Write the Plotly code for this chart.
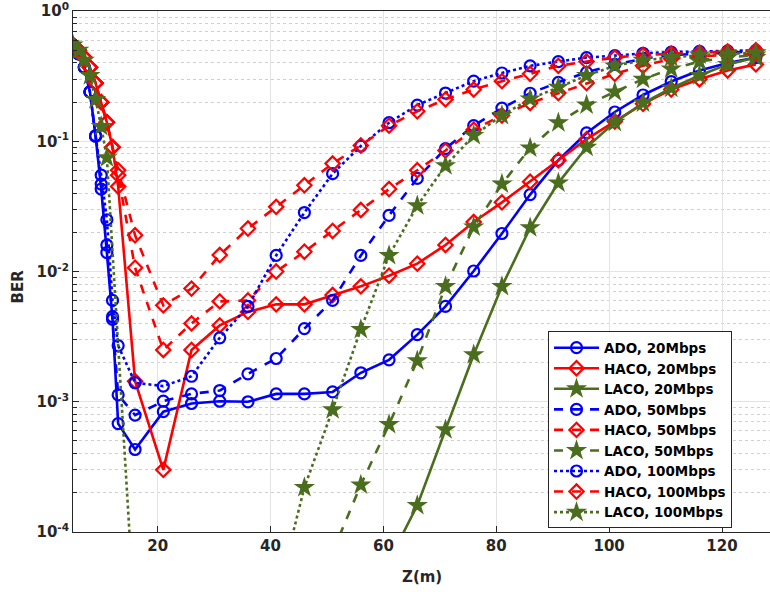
import plotly.graph_objects as go

# ---------------- data ----------------
z_early = [5, 6, 7, 8, 9, 10, 11, 12, 13]
z_rest = [16, 21, 26, 31, 36, 41, 46, 51, 56, 61, 66, 71, 76, 81, 86, 91, 96,
          101, 106, 111, 116, 121, 126]
z = z_early + z_rest

ado_20 = [0.55, 0.47, 0.37, 0.24, 0.11, 0.043, 0.014, 4.3e-3, 6.8e-4,
          4.3e-4, 8.4e-4, 9.7e-4, 1.01e-3, 1.0e-3, 1.15e-3, 1.15e-3, 1.19e-3,
          1.67e-3, 2.1e-3, 3.28e-3, 5.4e-3, 1.01e-2, 1.96e-2, 3.9e-2, 0.0716,
          0.116, 0.168, 0.227, 0.288, 0.35, 0.40, 0.44]
haco_20 = [0.55, 0.50, 0.44, 0.37, 0.28, 0.20, 0.14, 0.09, 0.045,
           1.44e-3, 3.0e-4, 2.5e-3, 3.86e-3, 4.9e-3, 5.6e-3, 5.6e-3, 6.6e-3,
           7.7e-3, 9.3e-3, 1.15e-2, 1.6e-2, 2.4e-2, 3.4e-2, 4.9e-2, 0.0716,
           0.104, 0.142, 0.194, 0.25, 0.30, 0.35, 0.39]
laco_20 = [None] * 9 + [None] * 9 + [
    6e-5, 1.6e-4, 6.1e-4, 2.3e-3, 7.7e-3, 0.0217, 0.048, 0.09, 0.14,
    0.197, 0.256, 0.32, 0.39, 0.44]

ado_50 = [0.55, 0.47, 0.37, 0.24, 0.11, 0.047, 0.016, 4.5e-3, 1.13e-3,
          7.9e-4, 1.01e-3, 1.15e-3, 1.22e-3, 1.64e-3, 2.15e-3, 3.65e-3, 6.0e-3,
          0.0133, 0.027, 0.052, 0.088, 0.132, 0.18, 0.234, 0.284, 0.339, 0.39,
          0.43, 0.46, 0.47, 0.48, 0.49]
haco_50 = [0.55, 0.50, 0.44, 0.37, 0.28, 0.20, 0.14, 0.09, 0.055,
           0.0107, 2.5e-3, 4.0e-3, 5.9e-3, 6.0e-3, 0.0100, 0.0142, 0.0205,
           0.0297, 0.043, 0.06, 0.085, 0.123, 0.158, 0.197, 0.235, 0.28, 0.33,
           0.38, 0.43, 0.45, 0.46, 0.47]
laco_50 = [None] * 9 + [None] * 7 + [
    7e-5, 2.3e-4, 6.7e-4, 2.07e-3, 7.7e-3, 0.022, 0.047, 0.089, 0.139, 0.19,
    0.24, 0.30, 0.36, 0.41, 0.44, 0.46]

ado_100 = [0.55, 0.47, 0.37, 0.24, 0.11, 0.055, 0.025, 6e-3, 2.7e-3,
           1.4e-3, 1.32e-3, 1.57e-3, 3.1e-3, 5.4e-3, 0.0133, 0.0284, 0.0565,
           0.092, 0.139, 0.19, 0.235, 0.29, 0.335, 0.38, 0.41, 0.44, 0.455,
           0.475, 0.485, 0.49, 0.495, 0.50]
haco_100 = [0.55, 0.50, 0.44, 0.37, 0.28, 0.20, 0.14, 0.09, 0.06,
            0.019, 5.5e-3, 7.4e-3, 0.0134, 0.0214, 0.0314, 0.046, 0.0675,
            0.093, 0.132, 0.17, 0.21, 0.25, 0.29, 0.33, 0.38, 0.41, 0.44,
            0.46, 0.47, 0.48, 0.49, 0.50]
laco_100 = [0.55, 0.50, 0.42, 0.32, 0.21, 0.13, 0.075, None, None,
            1.9e-5, None, None, None, None, 3e-5, 2.2e-4, 8.7e-4, 3.6e-3,
            0.0133, 0.032, 0.065, 0.111, 0.158, 0.212, 0.26, 0.32, 0.38, 0.42,
            0.44, 0.46, 0.47, 0.48]

y_tick_vals = [1e-4, 1e-3, 1e-2, 1e-1, 1e0]
y_tick_text = ["10<sup>-4</sup>", "10<sup>-3</sup>", "10<sup>-2</sup>",
               "10<sup>-1</sup>", "10<sup>0</sup>"]
x_tick_vals = [20, 40, 60, 80, 100, 120]

# ---------------- styles ----------------
BLUE = "#0000FF"
RED = "#FF0000"
GREEN = "#4B6E1E"
FONT = "DejaVu Sans"
TXT = "#262626"

series = [
    ("ADO, 20Mbps", ado_20, BLUE, "solid", "circle-open"),
    ("HACO, 20Mbps", haco_20, RED, "solid", "diamond-open"),
    ("LACO, 20Mbps", laco_20, GREEN, "solid", "star"),
    ("ADO, 50Mbps", ado_50, BLUE, "dash", "circle-open"),
    ("HACO, 50Mbps", haco_50, RED, "dash", "diamond-open"),
    ("LACO, 50Mbps", laco_50, GREEN, "dash", "star"),
    ("ADO, 100Mbps", ado_100, BLUE, "dot", "circle-open"),
    ("HACO, 100Mbps", haco_100, RED, "dash", "diamond-open"),
    ("LACO, 100Mbps", laco_100, GREEN, "dot", "star"),
]

fig = go.Figure()
for name, vals, color, dash, sym in series:
    if sym == "star":
        marker = dict(symbol=sym, size=16, color=color, line=dict(width=0))
    else:
        marker = dict(symbol=sym, size=11, color=color, line=dict(width=2.2, color=color))
    fig.add_trace(go.Scatter(
        x=z, y=vals, name=name, mode="lines+markers",
        line=dict(color=color, width=2.6, dash=dash),
        marker=marker, connectgaps=True, cliponaxis=True,
    ))

minor_vals = [m * 10 ** e for e in range(-4, 0) for m in range(2, 10)]

fig.update_layout(
    width=770, height=592,
    margin=dict(l=73, r=0, t=11, b=60, autoexpand=False),
    paper_bgcolor="white", plot_bgcolor="white",
    font=dict(family=FONT, size=15, color=TXT),
    showlegend=True,
    legend=dict(
        x=0.9455, y=0.385, xanchor="right", yanchor="top",
        bgcolor="white", bordercolor=TXT, borderwidth=1,
        font=dict(family=FONT, size=13.5, color="black", weight="bold"),
        itemwidth=45, tracegroupgap=0,
    ),
    xaxis=dict(
        range=[5, 128.5], tickvals=x_tick_vals, automargin=False,
        ticks="inside", ticklen=6, tickcolor=TXT,
        showline=True, linecolor=TXT, linewidth=1, mirror=True,
        showgrid=True, gridcolor="#E3E3E3", gridwidth=1, zeroline=False,
        ticklabeloverflow="allow",
        tickfont=dict(family=FONT, size=15, color=TXT, weight="bold"),
    ),
    yaxis=dict(
        type="log", range=[-4, 0.001], automargin=False,
        tickmode="array", tickvals=y_tick_vals, ticktext=y_tick_text,
        ticks="inside", ticklen=6, tickcolor=TXT,
        showline=True, linecolor=TXT, linewidth=1, mirror=True,
        showgrid=True, gridcolor="#E3E3E3", gridwidth=1, zeroline=False,
        ticklabeloverflow="allow",
        tickfont=dict(family=FONT, size=15, color=TXT, weight="bold"),
        minor=dict(tickmode="array", tickvals=minor_vals, ticks="inside",
                   ticklen=4, tickcolor=TXT, showgrid=True,
                   gridcolor="#D0D0D0", griddash="dot", gridwidth=1),
    ),
    annotations=[
        dict(text="Z(m)", xref="paper", yref="paper", x=0.5, y=-0.087,
             xanchor="center", yanchor="middle", showarrow=False,
             font=dict(family=FONT, size=15, color=TXT, weight="bold")),
        dict(text="BER", xref="paper", yref="paper", x=-0.079, y=0.471,
             xanchor="center", yanchor="middle", showarrow=False, textangle=-90,
             font=dict(family=FONT, size=15, color=TXT, weight="bold")),
    ],
)

fig.write_html("out.html", config={"displayModeBar": False},
               post_script="document.body.style.margin='0';document.body.style.padding='0';")
